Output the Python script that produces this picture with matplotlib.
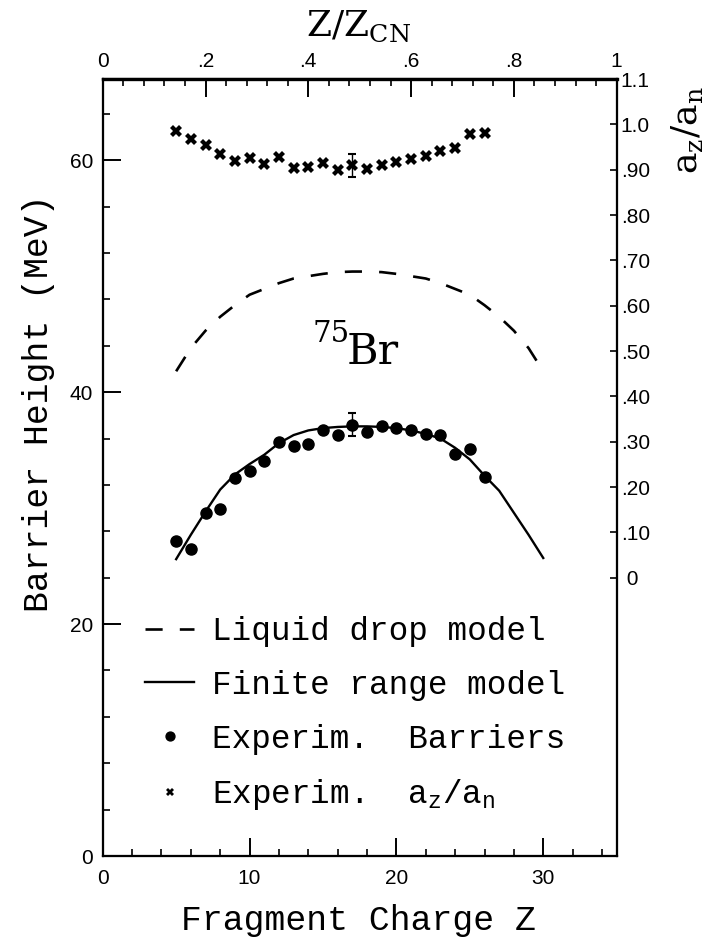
import numpy as np
import matplotlib
matplotlib.use('Agg')
import matplotlib.pyplot as plt
from matplotlib.ticker import FixedLocator, FixedFormatter, NullFormatter

plt.rcParams['mathtext.fontset'] = 'custom'
plt.rcParams['mathtext.rm'] = 'DejaVu Serif'
plt.rcParams['mathtext.tt'] = 'Liberation Mono'

# measured fragments of 75Br
z_exp = [5, 6, 7, 8, 9, 10, 11, 12, 13, 14, 15, 16, 17, 18, 19, 20, 21, 22, 23, 24, 25, 26]
barrier_exp = [27.2, 26.5, 29.6, 29.9, 32.6, 33.2, 34.1, 35.7, 35.4, 35.5, 36.7,
               36.3, 37.2, 36.6, 37.1, 36.9, 36.7, 36.4, 36.3, 34.7, 35.1, 32.7]
azan_exp = [0.985, 0.968, 0.954, 0.934, 0.919, 0.926, 0.913, 0.928, 0.904, 0.906, 0.915,
            0.899, 0.910, 0.902, 0.911, 0.917, 0.923, 0.930, 0.941, 0.948, 0.978, 0.980]
err_z = [17]
err_barrier = [1.0]
err_azan = [0.025]

# model curves
z_model = [5, 6, 7, 8, 9, 10, 11, 12, 13, 14, 15, 16, 17, 18, 19, 20, 21, 22, 23, 24,
           25, 26, 27, 28, 29, 30]
liquid_drop = [41.8, 43.8, 45.3, 46.5, 47.5, 48.4, 48.9, 49.4, 49.8, 50.0, 50.2, 50.35, 50.4,
               50.4, 50.35, 50.2, 50.0, 49.8, 49.4, 48.9, 48.4, 47.5, 46.5, 45.3, 43.8, 41.8]
finite_range = [25.6, 27.7, 29.7, 31.6, 32.9, 33.8, 34.6, 35.6, 36.3, 36.7, 36.9, 37.0, 37.05,
                37.05, 37.0, 36.9, 36.7, 36.4, 36.0, 35.2, 34.2, 32.8, 31.5, 29.6, 27.7, 25.7]

top_ticks = [0, 0.2, 0.4, 0.6, 0.8, 1.0]
top_labels = ['0', '.2', '.4', '.6', '.8', '1']
right_ticks = [0, 0.1, 0.2, 0.3, 0.4, 0.5, 0.6, 0.7, 0.8, 0.9, 1.0, 1.1]
right_labels = [' 0', '.10', '.20', '.30', '.40', '.50', '.60', '.70', '.80', '.90', '1.0', '1.1']

tick_font = 'Liberation Sans'
mono = 'Liberation Mono'
serif = 'DejaVu Serif'

fig = plt.figure(figsize=(7.05, 9.41), dpi=100)
ax = fig.add_axes([0.1457, 0.0903, 0.729, 0.8257])

ld, = ax.plot(z_model, liquid_drop, color='black', lw=1.9, dashes=(6.5, 6.5),
              label='Liquid drop model')
fr, = ax.plot(z_model, finite_range, color='black', lw=1.7, label='Finite range model')
dots, = ax.plot(z_exp, barrier_exp, 'o', color='black', ms=8, label='Experim.  Barriers')
ax.errorbar(err_z, [barrier_exp[z_exp.index(z)] for z in err_z], yerr=err_barrier,
            fmt='none', ecolor='black', elinewidth=1.0, capsize=3, capthick=1.5)

ax.set_xlim(0, 35)
ax.set_ylim(0, 67)
ax.set_xticks([0, 10, 20, 30])
ax.set_xticks(np.arange(0, 35, 2), minor=True)
ax.set_yticks([0, 20, 40, 60])
ax.set_yticks(np.arange(0, 67, 4), minor=True)
ax.tick_params(which='major', direction='in', length=13, width=1.4, labelsize=15, pad=9)
ax.tick_params(which='minor', direction='in', length=5, width=1.2)
ax.tick_params(axis='y', pad=7)
for lab in ax.get_xticklabels() + ax.get_yticklabels():
    lab.set_fontfamily(tick_font)

# top axis: Z / Z_CN
ax_top = ax.twiny()
ax_top.set_xlim(0, 1)
ax_top.xaxis.set_major_locator(FixedLocator(top_ticks))
ax_top.xaxis.set_major_formatter(FixedFormatter(top_labels))
ax_top.xaxis.set_minor_locator(FixedLocator(np.arange(0, 1.0, 0.04)))
ax_top.tick_params(which='major', direction='in', length=13, width=1.4, labelsize=15, pad=6)
ax_top.tick_params(which='minor', direction='in', length=5, width=1.2)
for lab in ax_top.get_xticklabels():
    lab.set_fontfamily(tick_font)

# right axis: a_z / a_n
ax_r = ax.twinx()
ax_r.set_ylim(-0.614, 1.1)
crosses, = ax_r.plot(z_exp, azan_exp, 'X', color='black', ms=8, mew=0,
                     label=r'Experim.  $\mathtt{a_z/a_n}$')
ax_r.errorbar(err_z, [azan_exp[z_exp.index(z)] for z in err_z], yerr=err_azan,
              fmt='none', ecolor='black', elinewidth=1.0, capsize=3, capthick=1.5)
ax_r.yaxis.set_major_locator(FixedLocator(right_ticks))
ax_r.yaxis.set_major_formatter(FixedFormatter(right_labels))
ax_r.yaxis.set_minor_locator(FixedLocator([0, 0.5, 1.0]))
ax_r.yaxis.set_minor_formatter(NullFormatter())
ax_r.tick_params(which='major', direction='in', length=5, width=1.2, labelsize=15, pad=3)
ax_r.tick_params(which='minor', direction='in', length=13, width=1.4)
for lab in ax_r.get_yticklabels():
    lab.set_fontfamily(tick_font)

for a in (ax, ax_top, ax_r):
    for s in a.spines.values():
        s.set_linewidth(1.5)
ax_top.spines['top'].set_linewidth(2.4)

ax.text(14.3, 44.3, '75', fontsize=21, fontfamily=serif, ha='left', va='baseline')
ax.text(16.6, 42.4, 'Br', fontsize=31, fontfamily=serif, ha='left', va='baseline')

leg = ax.legend(handles=[ld, fr, dots, crosses], loc='upper left',
                bbox_to_anchor=(0.083, 0.309), frameon=False,
                prop={'family': mono, 'size': 23.5}, handlelength=1.5,
                handletextpad=0.55, labelspacing=0.7, borderpad=0, borderaxespad=0,
                markerscale=0.8)

fig.text(0.055, 0.571, 'Barrier Height (MeV)', rotation=90, fontsize=25,
         fontfamily=mono, ha='center', va='center')
fig.text(0.508, 0.022, 'Fragment Charge Z', fontsize=25, fontfamily=mono,
         ha='center', va='center')
fig.text(0.509, 0.972, r'Z/Z$_{\rm CN}$', fontsize=26, fontfamily=serif,
         ha='center', va='center')
fig.text(0.974, 0.862, r'a$_{\rm z}$/a$_{\rm n}$', rotation=90, fontsize=26,
         fontfamily=serif, ha='center', va='center')

fig.savefig('out.png', dpi=100)
